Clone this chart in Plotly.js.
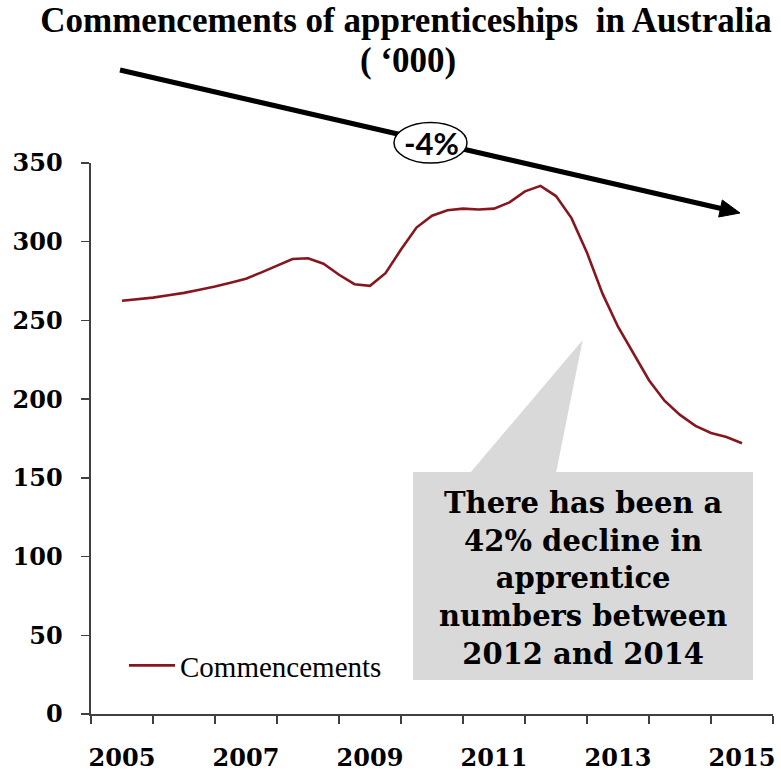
<!DOCTYPE html>
<html>
<head>
<meta charset="utf-8">
<script src="https://cdn.plot.ly/plotly-3.0.1.min.js"></script>
<style>html,body{margin:0;padding:0;background:#fff;}#chart{width:781px;height:771px;}</style>
</head>
<body>
<div id="chart"></div>
<script>
// ---- data (quarterly, '000) ----
var periods = [2005.50,2005.75,2006.00,2006.25,2006.50,2006.75,2007.00,2007.25,2007.50,2007.75,
               2008.00,2008.25,2008.50,2008.75,2009.00,2009.25,2009.50,2009.75,2010.00,2010.25,
               2010.50,2010.75,2011.00,2011.25,2011.50,2011.75,2012.00,2012.25,2012.50,2012.75,
               2013.00,2013.25,2013.50,2013.75,2014.00,2014.25,2014.50,2014.75,2015.00,2015.25,2015.50];
var commencements = [262.5,263.5,264.5,266,267.5,269.5,271.5,274,276.5,280.5,
                     285,289,289.5,286,279,273,272,280,295,309,
                     316.5,320,321,320.5,321,325,332,335.5,329,315,
                     293,267,246,229,212,199,190,183,178.5,176,172];
var yearLabels = ['2005','2007','2009','2011','2013','2015'];
var yearLabelPos = [2005.5,2007.5,2009.5,2011.5,2013.5,2015.5];
var seriesName = 'Commencements';
var titleLine1 = 'Commencements of apprenticeships  in Australia';
var titleLine2 = '( \u2018000)';
var trendLabel = '-4%';
var calloutText = 'There has been a<br>42% decline in<br>apprentice<br>numbers between<br>2012 and 2014';

// ---- layout helpers (pixel -> paper) ----
var M = {l:91, r:8, t:163, b:57};
var W = 781, H = 771;
var PW = W - M.l - M.r, PH = H - M.t - M.b;
function px(x){ return (x - M.l) / PW; }
function py(y){ return (H - M.b - y) / PH; }
function path(pts){ return 'M' + pts.map(function(p){return px(p[0]).toFixed(5)+','+py(p[1]).toFixed(5);}).join(' L') + ' Z'; }

var serifBold = {family:'DejaVu Serif', weight:'bold', color:'#000'};
var titleFont = {family:'Liberation Serif', weight:'bold', size:35, color:'#000'};

var trace = {
  x: periods, y: commencements, type:'scatter', mode:'lines', name: seriesName,
  line:{color:'#87171f', width:2.6}, hoverinfo:'skip'
};

var shapes = [
  {type:'path', xref:'paper', yref:'paper', path: path([[470,473],[582.7,340],[556,473]]), fillcolor:'#d9d9d9', line:{width:0}, layer:'below'},
  {type:'rect', xref:'paper', yref:'paper', x0:px(413), x1:px(753), y0:py(680), y1:py(472), fillcolor:'#d9d9d9', line:{width:0}, layer:'below'},
  {type:'line', xref:'paper', yref:'paper', x0:px(120), y0:py(70), x1:px(721), y1:py(208.5), line:{color:'#000', width:5}, layer:'above'},
  {type:'path', xref:'paper', yref:'paper', path: path([[740,213],[718.7,217],[722.3,200]]), fillcolor:'#000', line:{color:'#000', width:1}, layer:'above'},
  {type:'circle', xref:'paper', yref:'paper', x0:px(394), x1:px(467), y0:py(163), y1:py(122.5), fillcolor:'#fff', line:{color:'#000', width:1.5}, layer:'above'}
];

var annotations = [
  {xref:'paper', yref:'paper', x:px(431), y:py(143), text: trendLabel, showarrow:false,
   xanchor:'center', yanchor:'middle', font:{family:'Lato', weight:'bold', size:31, color:'#000'}},
  {xref:'paper', yref:'paper', x:px(583), y:py(578), text: calloutText, showarrow:false,
   xanchor:'center', yanchor:'middle', align:'center', font:Object.assign({size:29}, serifBold)},
  {xref:'paper', yref:'paper', x:px(408), y:py(61), text: titleLine2, showarrow:false,
   xanchor:'center', yanchor:'middle', font:titleFont}
];

var layout = {
  width:W, height:H, margin:M, paper_bgcolor:'#fff', plot_bgcolor:'#fff',
  title:{text:titleLine1, x:406/781, xref:'container', xanchor:'center', y:1 - 20/771, yanchor:'middle', font:titleFont},
  showlegend:true,
  legend:{x:px(124), y:py(640), xanchor:'left', yanchor:'top', bgcolor:'rgba(0,0,0,0)', itemwidth:46,
          font:{family:'Liberation Serif', size:29, color:'#000'}},
  xaxis:{range:[2005,2016], tickvals:yearLabelPos, ticktext:yearLabels, ticks:'', showgrid:false, zeroline:false,
         showline:true, linecolor:'#404040', linewidth:1.6, ticklabelstandoff:22,
         tickfont:Object.assign({size:24}, serifBold),
         minor:{dtick:1, tick0:2005, ticks:'outside', ticklen:8, tickwidth:1.4, tickcolor:'#404040', showgrid:false}},
  yaxis:{range:[0,350], dtick:50, ticks:'outside', ticklen:8, tickwidth:1.4, tickcolor:'#404040', showgrid:false, zeroline:false,
         showline:true, linecolor:'#404040', linewidth:1.6, ticklabelstandoff:14,
         tickfont:Object.assign({size:24}, serifBold)},
  shapes: shapes, annotations: annotations
};

Plotly.newPlot('chart', [trace], layout, {staticPlot:true, displayModeBar:false});
</script>
</body>
</html>
